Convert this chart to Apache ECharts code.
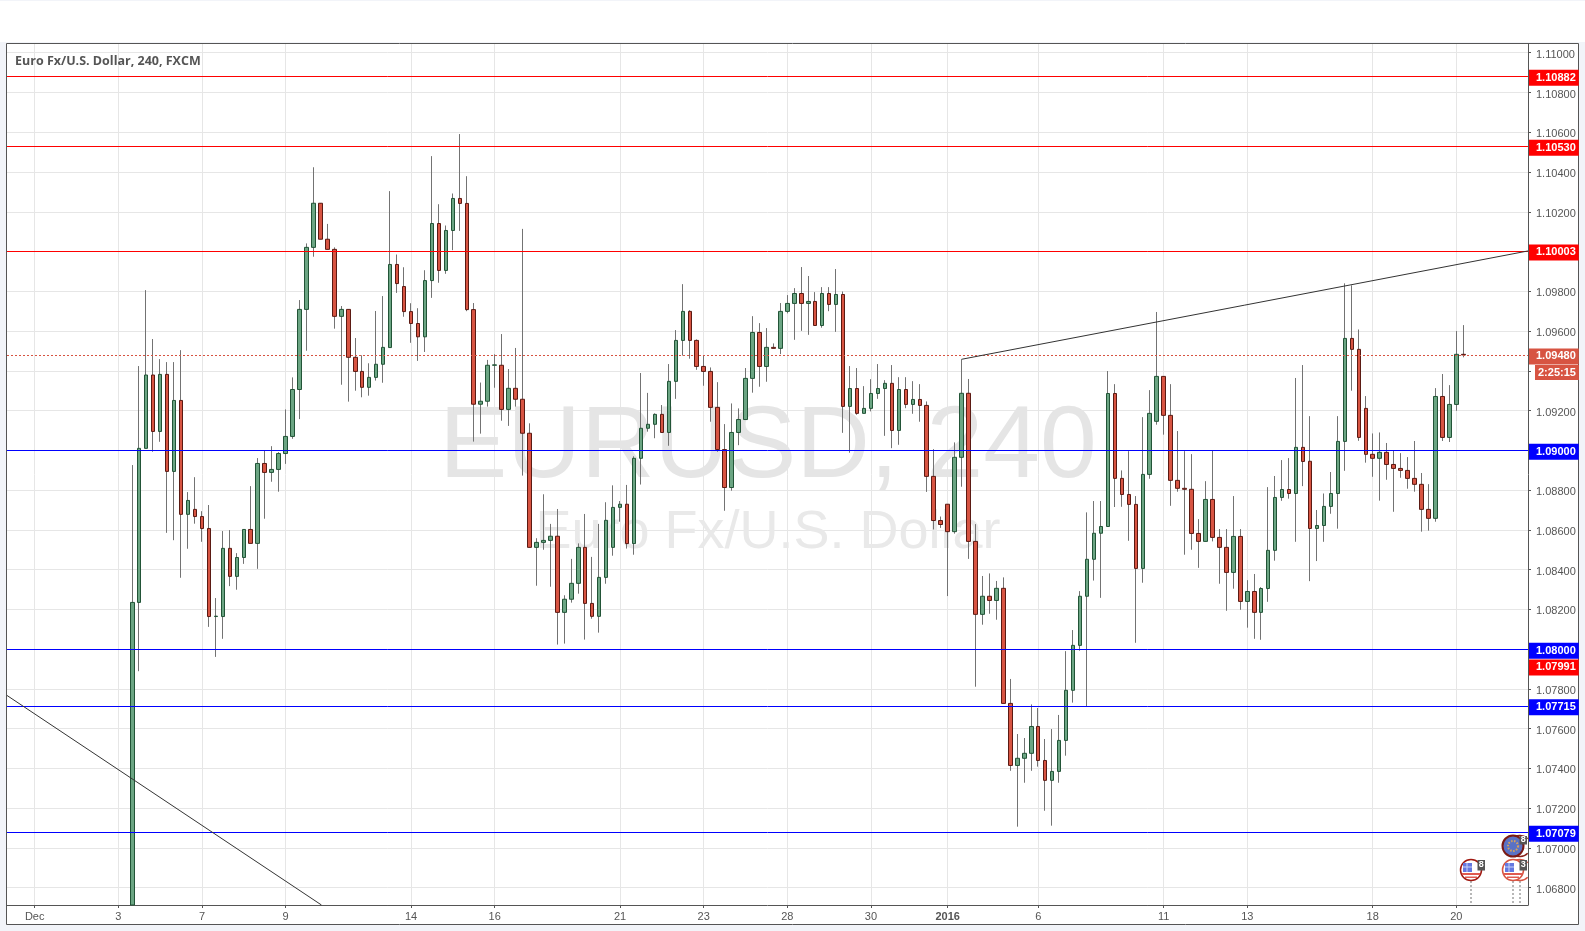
<!DOCTYPE html>
<html>
<head>
<meta charset="utf-8">
<title>EURUSD, 240</title>
<style>
  html, body { margin: 0; padding: 0; background: #fff; }
  #main { width: 1585px; height: 931px; }
</style>
<script src="https://cdn.jsdelivr.net/npm/echarts@6/dist/echarts.min.js"></script>
</head>
<body>
<div id="main"></div>
<script>
// 4h bars, index counted from the "Dec" tick
// the first bar runs off the bottom of the chart, so its open and low sit at the axis minimum
const firstBar = 14;
const opens = [
  1.06713,1.08235,1.09010,1.09379,1.09095,1.09382,1.08894,1.09251,1.08678,1.08703,
  1.08667,1.08607,1.08164,1.08164,1.08507,1.08366,1.08461,1.08602,1.08532,1.08934,
  1.08889,1.08904,1.08984,1.09070,1.09306,1.09709,1.10021,1.10243,1.10062,1.10011,
  1.09674,1.09709,1.09468,1.09397,1.09317,1.09367,1.09433,1.09517,1.09935,1.09824,
  1.09698,1.09638,1.09571,1.09854,1.10141,1.09905,1.10106,1.10267,1.10242,1.09708,
  1.09232,1.09247,1.09428,1.09428,1.09206,1.09312,1.09257,1.09086,1.08512,1.08537,
  1.08547,1.08568,1.08185,1.08251,1.08331,1.08512,1.08230,1.08165,1.08361,1.08512,
  1.08713,1.08729,1.08531,1.08960,1.09111,1.09131,1.09181,1.09090,1.09347,1.09553,
  1.09699,1.09553,1.09422,1.09397,1.09216,1.09004,1.08813,1.09090,1.09155,1.09362,
  1.09593,1.09422,1.09518,1.09513,1.09699,1.09739,1.09789,1.09739,1.09749,1.09628,
  1.09789,1.09734,1.09784,1.09221,1.09311,1.09186,1.09211,1.09286,1.09311,1.09337,
  1.09100,1.09306,1.09231,1.09256,1.09226,1.08869,1.08647,1.08729,1.08591,1.08965,
  1.09287,1.08542,1.08175,1.08266,1.08245,1.08306,1.07727,1.07415,1.07451,1.07476,
  1.07611,1.07440,1.07340,1.07385,1.07541,1.07793,1.08019,1.08266,1.08452,1.08583,
  1.08617,1.09286,1.08859,1.08778,1.08728,1.08406,1.08879,1.09146,1.09372,1.09176,
  1.08849,1.08809,1.08804,1.08582,1.08542,1.08753,1.08562,1.08512,1.08386,1.08567,
  1.08240,1.08290,1.08185,1.08305,1.08497,1.08763,1.08803,1.08783,1.09015,1.08945,
  1.08607,1.08622,1.08718,1.08783,1.09045,1.09563,1.09508,1.09211,1.08980,1.08960,
  1.08990,1.08929,1.08909,1.08899,1.08859,1.08829,1.08703,1.08658,1.09271,1.09065,
  1.09231,1.09483
];
const closes = [
  1.08235,1.09010,1.09379,1.09095,1.09382,1.08894,1.09251,1.08678,1.08748,1.08667,
  1.08607,1.08164,1.08166,1.08507,1.08366,1.08461,1.08602,1.08532,1.08934,1.08889,
  1.08904,1.08984,1.09070,1.09306,1.09709,1.10021,1.10243,1.10062,1.10011,1.09674,
  1.09709,1.09468,1.09397,1.09317,1.09367,1.09433,1.09518,1.09935,1.09839,1.09698,
  1.09638,1.09571,1.09854,1.10141,1.09905,1.10106,1.10267,1.10242,1.09708,1.09232,
  1.09247,1.09428,1.09430,1.09206,1.09312,1.09257,1.09086,1.08512,1.08537,1.08547,
  1.08568,1.08185,1.08251,1.08331,1.08512,1.08230,1.08165,1.08361,1.08648,1.08713,
  1.08729,1.08531,1.08960,1.09111,1.09131,1.09181,1.09090,1.09347,1.09553,1.09699,
  1.09553,1.09422,1.09397,1.09216,1.09004,1.08813,1.09090,1.09155,1.09362,1.09593,
  1.09422,1.09518,1.09513,1.09699,1.09739,1.09789,1.09739,1.09749,1.09628,1.09789,
  1.09734,1.09784,1.09221,1.09311,1.09186,1.09211,1.09286,1.09311,1.09337,1.09100,
  1.09306,1.09231,1.09256,1.09226,1.08869,1.08647,1.08627,1.08591,1.08965,1.09287,
  1.08542,1.08175,1.08266,1.08245,1.08306,1.07727,1.07415,1.07451,1.07476,1.07611,
  1.07440,1.07340,1.07385,1.07541,1.07793,1.08019,1.08266,1.08452,1.08583,1.08617,
  1.09286,1.08859,1.08778,1.08728,1.08406,1.08879,1.09186,1.09372,1.09176,1.08849,
  1.08809,1.08804,1.08582,1.08542,1.08753,1.08562,1.08512,1.08386,1.08567,1.08240,
  1.08290,1.08185,1.08305,1.08497,1.08763,1.08803,1.08783,1.09015,1.08944,1.08607,
  1.08622,1.08718,1.08783,1.09045,1.09563,1.09508,1.09065,1.08980,1.08960,1.08990,
  1.08929,1.08909,1.08899,1.08859,1.08829,1.08703,1.08658,1.09271,1.09065,1.09231,
  1.09483,1.09480
];
const highs = [
  1.08926,1.09424,1.09806,1.09560,1.09459,1.09444,1.09444,1.09504,1.08790,1.08865,
  1.08694,1.08725,1.08257,1.08594,1.08599,1.08483,1.08602,1.08820,1.08961,1.08998,
  1.09021,1.08991,1.09206,1.09367,1.09756,1.10041,1.10424,1.10243,1.10139,1.10021,
  1.09726,1.09709,1.09565,1.09478,1.09438,1.09701,1.09776,1.10304,1.09985,1.09921,
  1.09740,1.09715,1.09906,1.10480,1.10238,1.10131,1.10292,1.10591,1.10379,1.09741,
  1.09341,1.09455,1.09483,1.09585,1.09409,1.09515,1.10114,1.09136,1.08558,1.08779,
  1.08630,1.08705,1.08271,1.08454,1.08532,1.08680,1.08464,1.08630,1.08739,1.08824,
  1.08745,1.08826,1.08970,1.09389,1.09289,1.09186,1.09228,1.09434,1.09605,1.09836,
  1.09705,1.09558,1.09477,1.09417,1.09343,1.09132,1.09236,1.09211,1.09414,1.09675,
  1.09640,1.09615,1.09538,1.09741,1.09781,1.09816,1.09922,1.09877,1.09796,1.09821,
  1.09821,1.09912,1.09799,1.09424,1.09414,1.09323,1.09358,1.09434,1.09353,1.09429,
  1.09368,1.09368,1.09348,1.09333,1.09246,1.09006,1.08667,1.08729,1.09040,1.09458,
  1.09359,1.08629,1.08368,1.08381,1.08343,1.08361,1.07850,1.07573,1.07553,1.07722,
  1.07704,1.07548,1.07598,1.07669,1.07990,1.08096,1.08292,1.08688,1.08745,1.08745,
  1.09399,1.09333,1.08899,1.08996,1.08770,1.09167,1.09303,1.09696,1.09372,1.09333,
  1.09097,1.08996,1.08981,1.08654,1.08845,1.09001,1.08604,1.08604,1.08770,1.08604,
  1.08347,1.08378,1.08312,1.08815,1.08871,1.08951,1.08961,1.09364,1.09429,1.09172,
  1.08700,1.08783,1.08891,1.09172,1.09840,1.09830,1.09608,1.09273,1.09085,1.09090,
  1.09037,1.09001,1.08986,1.08966,1.09047,1.08886,1.08830,1.09313,1.09384,1.09328,
  1.09600,1.09630
];
const lows = [
  1.06713,1.07889,1.09010,1.08993,1.09043,1.08585,1.08548,1.08359,1.08505,1.08631,
  1.08540,1.08112,1.07961,1.08052,1.08317,1.08299,1.08429,1.08532,1.08404,1.08656,
  1.08842,1.08792,1.08932,1.09058,1.09157,1.09501,1.09974,1.10062,1.10011,1.09612,
  1.09330,1.09245,1.09300,1.09267,1.09275,1.09351,1.09340,1.09517,1.09792,1.09672,
  1.09541,1.09450,1.09495,1.09767,1.09843,1.09888,1.10007,1.10104,1.09700,1.09044,
  1.09084,1.09220,1.09315,1.09149,1.09123,1.09220,1.08873,1.08512,1.08319,1.08500,
  1.08314,1.08023,1.08028,1.08234,1.08279,1.08048,1.08153,1.08083,1.08329,1.08470,
  1.08641,1.08506,1.08475,1.08828,1.09094,1.09061,1.09090,1.09023,1.09259,1.09477,
  1.09461,1.09405,1.09325,1.09144,1.08993,1.08696,1.08797,1.09026,1.09155,1.09290,
  1.09320,1.09345,1.09513,1.09484,1.09689,1.09556,1.09601,1.09581,1.09628,1.09617,
  1.09700,1.09596,1.09088,1.08988,1.09179,1.09186,1.09196,1.09259,1.09073,1.09011,
  1.09028,1.09212,1.09184,1.09144,1.08791,1.08602,1.08610,1.08267,1.08581,1.08817,
  1.08454,1.07811,1.08123,1.08178,1.08148,1.07727,1.07388,1.07107,1.07328,1.07388,
  1.07409,1.07187,1.07112,1.07328,1.07464,1.07731,1.07992,1.07712,1.08345,1.08258,
  1.08617,1.08715,1.08716,1.08545,1.08032,1.08334,1.08857,1.09129,1.09079,1.08721,
  1.08792,1.08475,1.08500,1.08409,1.08542,1.08542,1.08329,1.08193,1.08304,1.08198,
  1.08108,1.08052,1.08047,1.08238,1.08445,1.08746,1.08757,1.08540,1.08820,1.08342,
  1.08443,1.08540,1.08681,1.08606,1.08897,1.09300,1.09048,1.08938,1.08867,1.08747,
  1.08852,1.08691,1.08862,1.08807,1.08792,1.08591,1.08596,1.08641,1.09047,1.09042,
  1.09199,1.09468
];

const timeTickBars = [0, 12, 24, 36, 54, 66, 84, 96, 108, 120, 131, 144, 162, 174, 192, 204];
const timeTickLabels = ['Dec', '3', '7', '9', '14', '16', '21', '23', '28', '30', '2016', '6', '11', '13', '18', '20'];
const priceTicks = [1.068, 1.07, 1.072, 1.074, 1.076, 1.078, 1.08, 1.082, 1.084, 1.086, 1.088, 1.09,
  1.092, 1.094, 1.096, 1.098, 1.1, 1.102, 1.104, 1.106, 1.108, 1.11];

const resistanceLevels = [1.10882, 1.10530, 1.10003];
const supportLevels = [1.09000, 1.08000, 1.07715, 1.07079];
const lastPrice = 1.09480;
const bidPrice = 1.07991;

const trendUp = [[133, 1.09458], [214.28, 1.10003]];
const trendDown = [[-3.975, 1.07767], [41.15, 1.06713]];

const axisGrey = '#555555';
const upFill = '#6ba583', downFill = '#d75442';
const upEdge = '#225437', downEdge = '#5b1a13';
const wickGrey = '#737373';

const wickData = opens.map((o, i) => [firstBar + i, o, closes[i], lows[i], highs[i]]);
const bodyData = opens.map((o, i) => {
  const c = closes[i];
  return [firstBar + i, o, c, Math.min(o, c), Math.max(o, c)];
});

function priceLabel(value, bg, extra) {
  return Object.assign({
    show: true,
    position: 'end',
    distance: 1,
    offset: [0, 1.5],
    formatter: value.toFixed(5),
    color: '#fff',
    fontFamily: 'Liberation Sans',
    fontWeight: 'bold',
    fontSize: 11,
    lineHeight: 12,
    backgroundColor: bg,
    padding: [2, 3, 2, 7]
  }, extra);
}

const levelLines = [
  ...resistanceLevels.map((v) => ({ yAxis: v, lineStyle: { color: '#ff0000' }, label: priceLabel(v, '#ff0000') })),
  { yAxis: bidPrice, lineStyle: { color: 'rgba(0,0,0,0)' }, label: priceLabel(bidPrice, '#ff0000', { offset: [0, 16.5] }) },
  ...supportLevels.map((v) => ({ yAxis: v, lineStyle: { color: '#0000ff' }, label: priceLabel(v, '#0000ff') })),
  { yAxis: lastPrice, lineStyle: { color: downFill, type: [2, 2] }, label: priceLabel(lastPrice, downFill) }
];

// news flags at the bottom right
function usFlag(cx, cy, ring, badge, bx) {
  return [
    { type: 'circle', shape: { cx, cy, r: 10.5 }, style: { fill: '#fff', stroke: ring, lineWidth: 1.5 } },
    { type: 'rect', shape: { x: cx - 8, y: cy - 7, width: 9, height: 9 }, style: { fill: '#6478e0' } },
    { type: 'line', shape: { x1: cx - 8, y1: cy - 3, x2: cx + 1, y2: cy - 3 }, style: { stroke: '#c8d0f5', lineWidth: 1 } },
    { type: 'line', shape: { x1: cx - 4, y1: cy - 7, x2: cx - 4, y2: cy + 2 }, style: { stroke: '#c8d0f5', lineWidth: 1 } },
    { type: 'rect', shape: { x: cx - 9, y: cy + 3, width: 18, height: 2 }, style: { fill: '#e05a50' } },
    { type: 'rect', shape: { x: cx - 6, y: cy + 6.5, width: 12, height: 1.5 }, style: { fill: '#e05a50' } },
    { type: 'rect', shape: { x: bx, y: cy - 10, width: 7.5, height: 10.5 }, style: { fill: '#555' } },
    { type: 'text', x: bx + 1.2, y: cy - 9.5, style: { text: badge, fill: '#fff', font: 'bold 9px "Liberation Sans"' } }
  ];
}
function euroFlag(cx, cy, badge, bx) {
  return [
    { type: 'circle', shape: { cx, cy, r: 10.5 }, style: { fill: '#5a72c4', stroke: '#7a1a14', lineWidth: 2 } },
    { type: 'circle', shape: { cx, cy, r: 5 }, style: { fill: 'none', stroke: '#d9a35a', lineWidth: 2, lineDash: [1.5, 1.5] } },
    { type: 'rect', shape: { x: bx, y: cy - 10, width: 7.5, height: 8.5 }, style: { fill: '#555' } },
    { type: 'text', x: bx + 1.2, y: cy - 10.5, style: { text: badge, fill: '#fff', font: 'bold 9px "Liberation Sans"' } }
  ];
}
function stem(x) {
  return { type: 'line', shape: { x1: x, y1: 881, x2: x, y2: 905 }, style: { stroke: '#a0a0a0', lineWidth: 1.5, lineDash: [2, 2] } };
}
function hiddenRing(cx, cy, color) {
  return { type: 'arc', shape: { cx, cy, r: 10.5, startAngle: 0.75, endAngle: Math.PI * 2 - 0.75 }, style: { fill: 'none', stroke: color, lineWidth: 1.5 } };
}

const flags = [
  stem(1471), stem(1513), stem(1520),
  hiddenRing(1520, 846, '#8a2018'), hiddenRing(1520, 870, downFill),
  ...usFlag(1471, 870, '#a01810', '8', 1477.5),
  ...usFlag(1513, 870, downFill, '3', 1519.5),
  ...euroFlag(1513, 846, '8', 1519.5)
].map((el) => Object.assign(el, { z: 20, silent: true }));

const graphicElements = [
  { type: 'rect', z: -20, silent: true, shape: { x: 0, y: 0, width: 1585, height: 1 }, style: { fill: '#f2f4f9' } },
  { type: 'rect', z: -20, silent: true, shape: { x: 0, y: 42, width: 1585, height: 889 }, style: { fill: '#f2f4f9' } },
  { type: 'rect', z: -19, silent: true, shape: { x: 6.5, y: 43.5, width: 1572, height: 881 }, style: { fill: '#fff', stroke: axisGrey, lineWidth: 1 } },
  { type: 'text', z: 1, silent: true, x: 768, y: 449, style: { text: 'EURUSD, 240', fill: '#e5e5e5', font: '102px "Liberation Sans"', textAlign: 'center', textVerticalAlign: 'middle' } },
  { type: 'text', z: 1, silent: true, x: 768, y: 533, style: { text: 'Euro Fx/U.S. Dollar', fill: '#e9e9e9', font: '54px "Liberation Sans"', textAlign: 'center', textVerticalAlign: 'middle' } },
  { type: 'text', z: 20, silent: true, x: 15, y: 61, style: { text: 'Euro Fx/U.S. Dollar, 240, FXCM', fill: axisGrey, font: 'bold 12.5px "Open Sans"', textVerticalAlign: 'middle' } },
  { type: 'text', z: 20, silent: true, x: 1535, y: 365, style: { text: '2:25:15', fill: '#fff', backgroundColor: downFill, font: 'bold 11px "Liberation Sans"', padding: [2, 3, 2, 3] } },
  ...flags
];

const chart = echarts.init(document.getElementById('main'), null, { renderer: 'canvas' });
chart.setOption({
  animation: false,
  backgroundColor: '#fff',
  graphic: { elements: graphicElements },
  grid: { left: 7, right: 57, top: 44, bottom: 26 },
  xAxis: {
    type: 'value',
    min: -3.975,
    max: 214.28,
    axisLine: { show: true, onZero: false, lineStyle: { color: axisGrey } },
    axisTick: { show: true, length: 3, lineStyle: { color: axisGrey }, customValues: timeTickBars },
    splitLine: { show: true, lineStyle: { color: '#e6e6e6' } },
    axisLabel: {
      customValues: timeTickBars,
      color: axisGrey,
      fontFamily: 'Liberation Sans',
      fontSize: 11,
      margin: 6,
      formatter: (v) => {
        const label = timeTickLabels[timeTickBars.indexOf(v)];
        return label === '2016' ? '{bold|2016}' : label;
      },
      rich: { bold: { fontWeight: 'bold', fontSize: 11, color: axisGrey, fontFamily: 'Liberation Sans' } }
    }
  },
  yAxis: {
    type: 'value',
    position: 'right',
    scale: true,
    min: 1.06713,
    max: 1.11044,
    axisLine: { show: true, onZero: false, lineStyle: { color: axisGrey } },
    axisTick: { show: true, length: 3, lineStyle: { color: axisGrey }, customValues: priceTicks },
    splitLine: { show: true, lineStyle: { color: '#e6e6e6' } },
    axisLabel: {
      customValues: priceTicks,
      color: axisGrey,
      fontFamily: 'Liberation Sans',
      fontSize: 11,
      margin: 8,
      verticalAlign: 'top',
      lineHeight: 4,
      formatter: (v) => v.toFixed(5)
    }
  },
  series: [
    {
      type: 'candlestick',
      name: 'wicks',
      barWidth: 1,
      silent: true,
      z: 2,
      itemStyle: { color: wickGrey, color0: wickGrey, borderColor: wickGrey, borderColor0: wickGrey, borderWidth: 1 },
      data: wickData
    },
    {
      type: 'candlestick',
      name: 'EURUSD',
      barWidth: 4,
      silent: true,
      z: 3,
      itemStyle: { color: upFill, color0: downFill, borderColor: upEdge, borderColor0: downEdge, borderWidth: 1 },
      data: bodyData,
      markLine: {
        silent: true,
        symbol: 'none',
        animation: false,
        precision: 5,
        lineStyle: { type: 'solid', width: 1 },
        data: levelLines
      }
    },
    {
      type: 'line',
      name: 'trend up',
      data: trendUp,
      showSymbol: false,
      silent: true,
      z: 6,
      lineStyle: { color: '#333', width: 1 }
    },
    {
      type: 'line',
      name: 'trend down',
      data: trendDown,
      showSymbol: false,
      silent: true,
      z: 6,
      lineStyle: { color: '#333', width: 1 }
    }
  ]
});
</script>
</body>
</html>
